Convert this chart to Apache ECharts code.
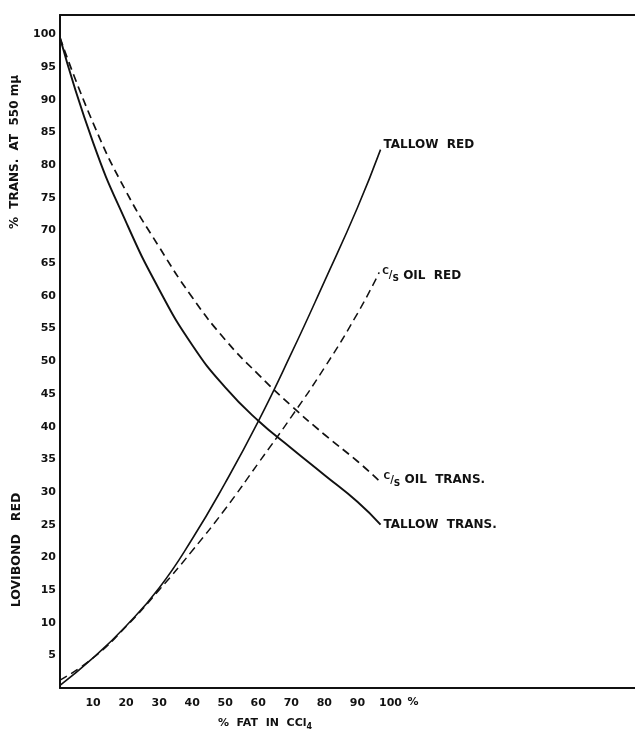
<!DOCTYPE html>
<html><head><meta charset="utf-8">
<script src="https://cdn.jsdelivr.net/npm/echarts@6/dist/echarts.min.js"></script>
<style>html,body{margin:0;padding:0;background:#fff}#c{width:635px;height:733px}</style>
</head><body><div id="c"></div>
<script>
// % fat in CCl4 (x) and readings (y)
const fatTallowTrans = [0, 10, 20, 30, 40, 50, 60, 70, 80, 90, 97];
const tallowTrans    = [99.5, 83.5, 71.3, 61, 52.5, 46, 40.9, 36.7, 32.6, 28.5, 25.0];
const fatOilTrans    = [0, 10, 20, 30, 40, 50, 60, 70, 80, 90, 97];
const oilTrans       = [99.5, 86.5, 76, 67.5, 59.8, 53.3, 48, 43.2, 38.8, 34.7, 31.5];
const fatTallowRed   = [0, 10, 20, 30, 40, 50, 60, 70, 80, 90, 97];
const tallowRed      = [0.4, 4.6, 9.5, 15.3, 22.8, 31.4, 40.8, 51.2, 62.2, 73.5, 82.4];
const fatOilRed      = [0, 10, 20, 30, 40, 50, 60, 70, 80, 90, 96.6];
const oilRed         = [1.2, 4.6, 9.4, 15, 21, 27.4, 34.4, 41.5, 49, 57.3, 63.6];
const yTickLabels = [5,10,15,20,25,30,35,40,45,50,55,60,65,70,75,80,85,90,95,100];
const xTickLabels = [10,20,30,40,50,60,70,80,90,100];

const zip = (xs, ys) => xs.map((x, i) => [x, ys[i]]);
const FONT = 'DejaVu Sans';
const ink = '#111';

const chart = echarts.init(document.getElementById('c'), null, {renderer: 'canvas'});

function lineSeries(name, data, dashed, width, label, offset) {
  return {
    name, type: 'line', data, smooth: 0.5, showSymbol: false, symbol: 'none',
    lineStyle: {color: ink, width: width, type: dashed ? [8, 5] : 'solid'},
    endLabel: {
      show: true, formatter: label, distance: 3, offset: offset,
      color: ink, fontFamily: FONT, fontWeight: 'bold', fontSize: 12,
      rich: {
        t: {fontFamily: FONT, fontWeight: 'bold', fontSize: 12, color: ink, lineHeight: 16, verticalAlign: 'middle'},
        c: {fontFamily: FONT, fontWeight: 'bold', fontSize: 9, color: ink, lineHeight: 16, verticalAlign: 'top'},
        sl: {fontFamily: FONT, fontWeight: 'bold', fontSize: 10, color: ink, lineHeight: 16, verticalAlign: 'middle'},
        s: {fontFamily: FONT, fontWeight: 'bold', fontSize: 9, color: ink, lineHeight: 16, verticalAlign: 'bottom'}
      }
    },
    emphasis: {disabled: true}, animation: false
  };
}

const option = {
  animation: false,
  backgroundColor: '#fff',
  grid: {left: 60, right: 0, top: 15, bottom: 45, containLabel: false},
  xAxis: [{
    type: 'value', min: 0, max: 174, interval: 10,
    axisLine: {show: true, onZero: false, lineStyle: {color: ink, width: 2}},
    axisTick: {show: false}, splitLine: {show: false},
    axisLabel: {
      margin: 10, color: ink, fontFamily: FONT, fontWeight: 'bold', fontSize: 11,
      showMaxLabel: false,
      formatter: v => xTickLabels.includes(v) ? String(v) : ''
    }
  }, {
    type: 'value', position: 'top', min: 0, max: 174,
    axisLine: {show: true, onZero: false, lineStyle: {color: ink, width: 2}},
    axisTick: {show: false}, splitLine: {show: false}, axisLabel: {show: false}
  }],
  yAxis: {
    type: 'value', min: 0, max: 103, interval: 5,
    axisLine: {show: true, onZero: false, lineStyle: {color: ink, width: 2}},
    axisTick: {show: false}, splitLine: {show: false},
    axisLabel: {
      margin: 4, color: ink, fontFamily: FONT, fontWeight: 'bold', fontSize: 11,
      showMaxLabel: false,
      formatter: v => yTickLabels.includes(v) ? String(v) : ''
    }
  },
  series: [
    lineSeries('Tallow trans', zip(fatTallowTrans, tallowTrans), false, 1.9, '{t|TALLOW  TRANS.}', [0, 0]),
    lineSeries('C/S oil trans', zip(fatOilTrans, oilTrans), true, 1.7, '{c|C}{sl|/}{s|S}{t| OIL  TRANS.}', [0, -2]),
    lineSeries('Tallow red', zip(fatTallowRed, tallowRed), false, 1.6, '{t|TALLOW  RED}', [0, -5]),
    lineSeries('C/S oil red', zip(fatOilRed, oilRed), true, 1.5, '{c|C}{sl|/}{s|S}{t| OIL  RED}', [0, 3])
  ],
  graphic: [
    {type: 'text', x: 15, y: 152, rotation: Math.PI / 2,
     style: {text: '%  TRANS.  AT  550 mμ', fill: ink, font: 'bold 12px "DejaVu Sans"', align: 'center', verticalAlign: 'middle'}},
    {type: 'text', x: 17, y: 550, rotation: Math.PI / 2,
     style: {text: 'LOVIBOND   RED', fill: ink, font: 'bold 12.5px "DejaVu Sans"', align: 'center', verticalAlign: 'middle'}},
    {type: 'text', x: 413, y: 702,
     style: {text: '%', fill: ink, font: 'bold 11px "DejaVu Sans"', align: 'center', verticalAlign: 'middle'}},
    {type: 'text', x: 265, y: 723,
     style: {text: '{a|%  FAT  IN  CCl}{b|4}', align: 'center', verticalAlign: 'middle',
       rich: {
         a: {fill: ink, fontFamily: FONT, fontWeight: 'bold', fontSize: 11, lineHeight: 16, verticalAlign: 'middle'},
         b: {fill: ink, fontFamily: FONT, fontWeight: 'bold', fontSize: 8, lineHeight: 16, verticalAlign: 'bottom'}
       }}}
  ]
};
chart.setOption(option);
</script>
</body></html>
